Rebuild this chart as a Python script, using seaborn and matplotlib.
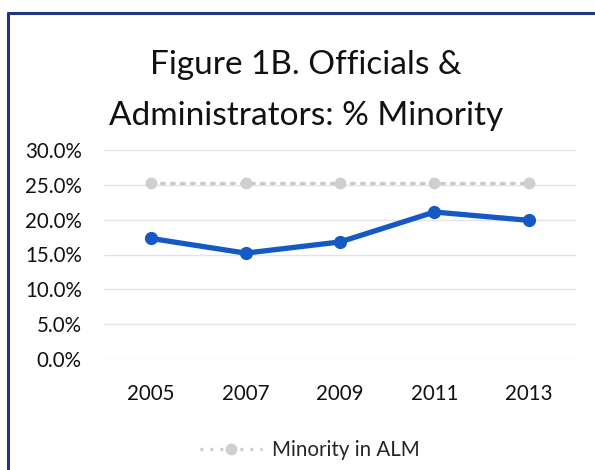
import matplotlib
matplotlib.use("Agg")
import matplotlib.pyplot as plt
from matplotlib.lines import Line2D
from matplotlib.ticker import PercentFormatter
import seaborn as sns
import pandas as pd

# Survey years and shares (%) of minority officials & administrators
years = ["2005", "2007", "2009", "2011", "2013"]
minority_officials = [17.3, 15.2, 16.8, 21.1, 19.9]
minority_alm = [25.2, 25.2, 25.2, 25.2, 25.2]
y_ticks = [0, 5, 10, 15, 20, 25, 30]

sns.set_theme(style="white")
plt.rcParams["font.family"] = ["Lato", "DejaVu Sans"]

W, H = 595, 470
fig = plt.figure(figsize=(W / 100, H / 100), dpi=100)
fig.patch.set_facecolor("white")

ax = fig.add_axes([104 / W, (H - 359) / H, (576 - 104) / W, (359 - 150) / H])
ax.set_facecolor("white")

df = pd.DataFrame({
    "pos": range(len(years)),
    "officials": minority_officials,
    "alm": minority_alm,
})

# Reference series: labour-market availability
sns.lineplot(data=df, x="pos", y="alm", ax=ax, color="#c9c9c9",
             linewidth=2.4, linestyle=(0, (0.8, 2.2)), dash_capstyle="round",
             marker="o", markersize=8.5, markeredgewidth=0,
             markerfacecolor="#cfcfcf", zorder=3)
# Actual share among officials & administrators
sns.lineplot(data=df, x="pos", y="officials", ax=ax, color="#1559c4",
             linewidth=3.8, marker="o", markersize=9.5, markeredgewidth=0,
             zorder=4)

ax.set_xlim(-0.5, len(years) - 0.5)
ax.set_ylim(0, 30)
ax.set_yticks(y_ticks)
ax.yaxis.set_major_formatter(PercentFormatter(decimals=1))
ax.set_xticks(range(len(years)))
ax.set_xticklabels(years)
ax.set_xlabel("")
ax.set_ylabel("")
ax.grid(axis="y", color="#e4e4e4", linewidth=1.0)
ax.grid(axis="x", visible=False)
for s in ax.spines.values():
    s.set_visible(False)
ax.tick_params(axis="both", length=0, labelsize=14.8, colors="#111111")
ax.tick_params(axis="y", pad=16)
ax.tick_params(axis="x", pad=18)

# Legend with only the reference series
handle = Line2D([], [], color="#c9c9c9", linewidth=2.4,
                linestyle=(0, (0.8, 2.2)), marker="o", markersize=8.5,
                markeredgewidth=0, markerfacecolor="#cfcfcf")
fig.legend([handle], ["Minority in ALM"], loc="center",
           bbox_to_anchor=(310 / W, (H - 450) / H), frameon=False,
           fontsize=14.8, handlelength=3.0, handletextpad=0.5)

# Two-line title
fig.text(306 / W, (H - 74) / H, "Figure 1B. Officials &", ha="center",
         va="baseline", fontsize=24, color="#111111")
fig.text(306 / W, (H - 125) / H, "Administrators: % Minority", ha="center",
         va="baseline", fontsize=24, color="#111111")

# Chart frame (left and top edges)
frame_color = "#1f3580"
fig.add_artist(Line2D([8 / W, 8 / W], [0, (H - 13) / H], color=frame_color,
                      linewidth=2.2, transform=fig.transFigure))
fig.add_artist(Line2D([8 / W, 1], [(H - 13) / H, (H - 13) / H],
                      color=frame_color, linewidth=2.2,
                      transform=fig.transFigure))

fig.savefig("out.png", dpi=100, facecolor="white")
